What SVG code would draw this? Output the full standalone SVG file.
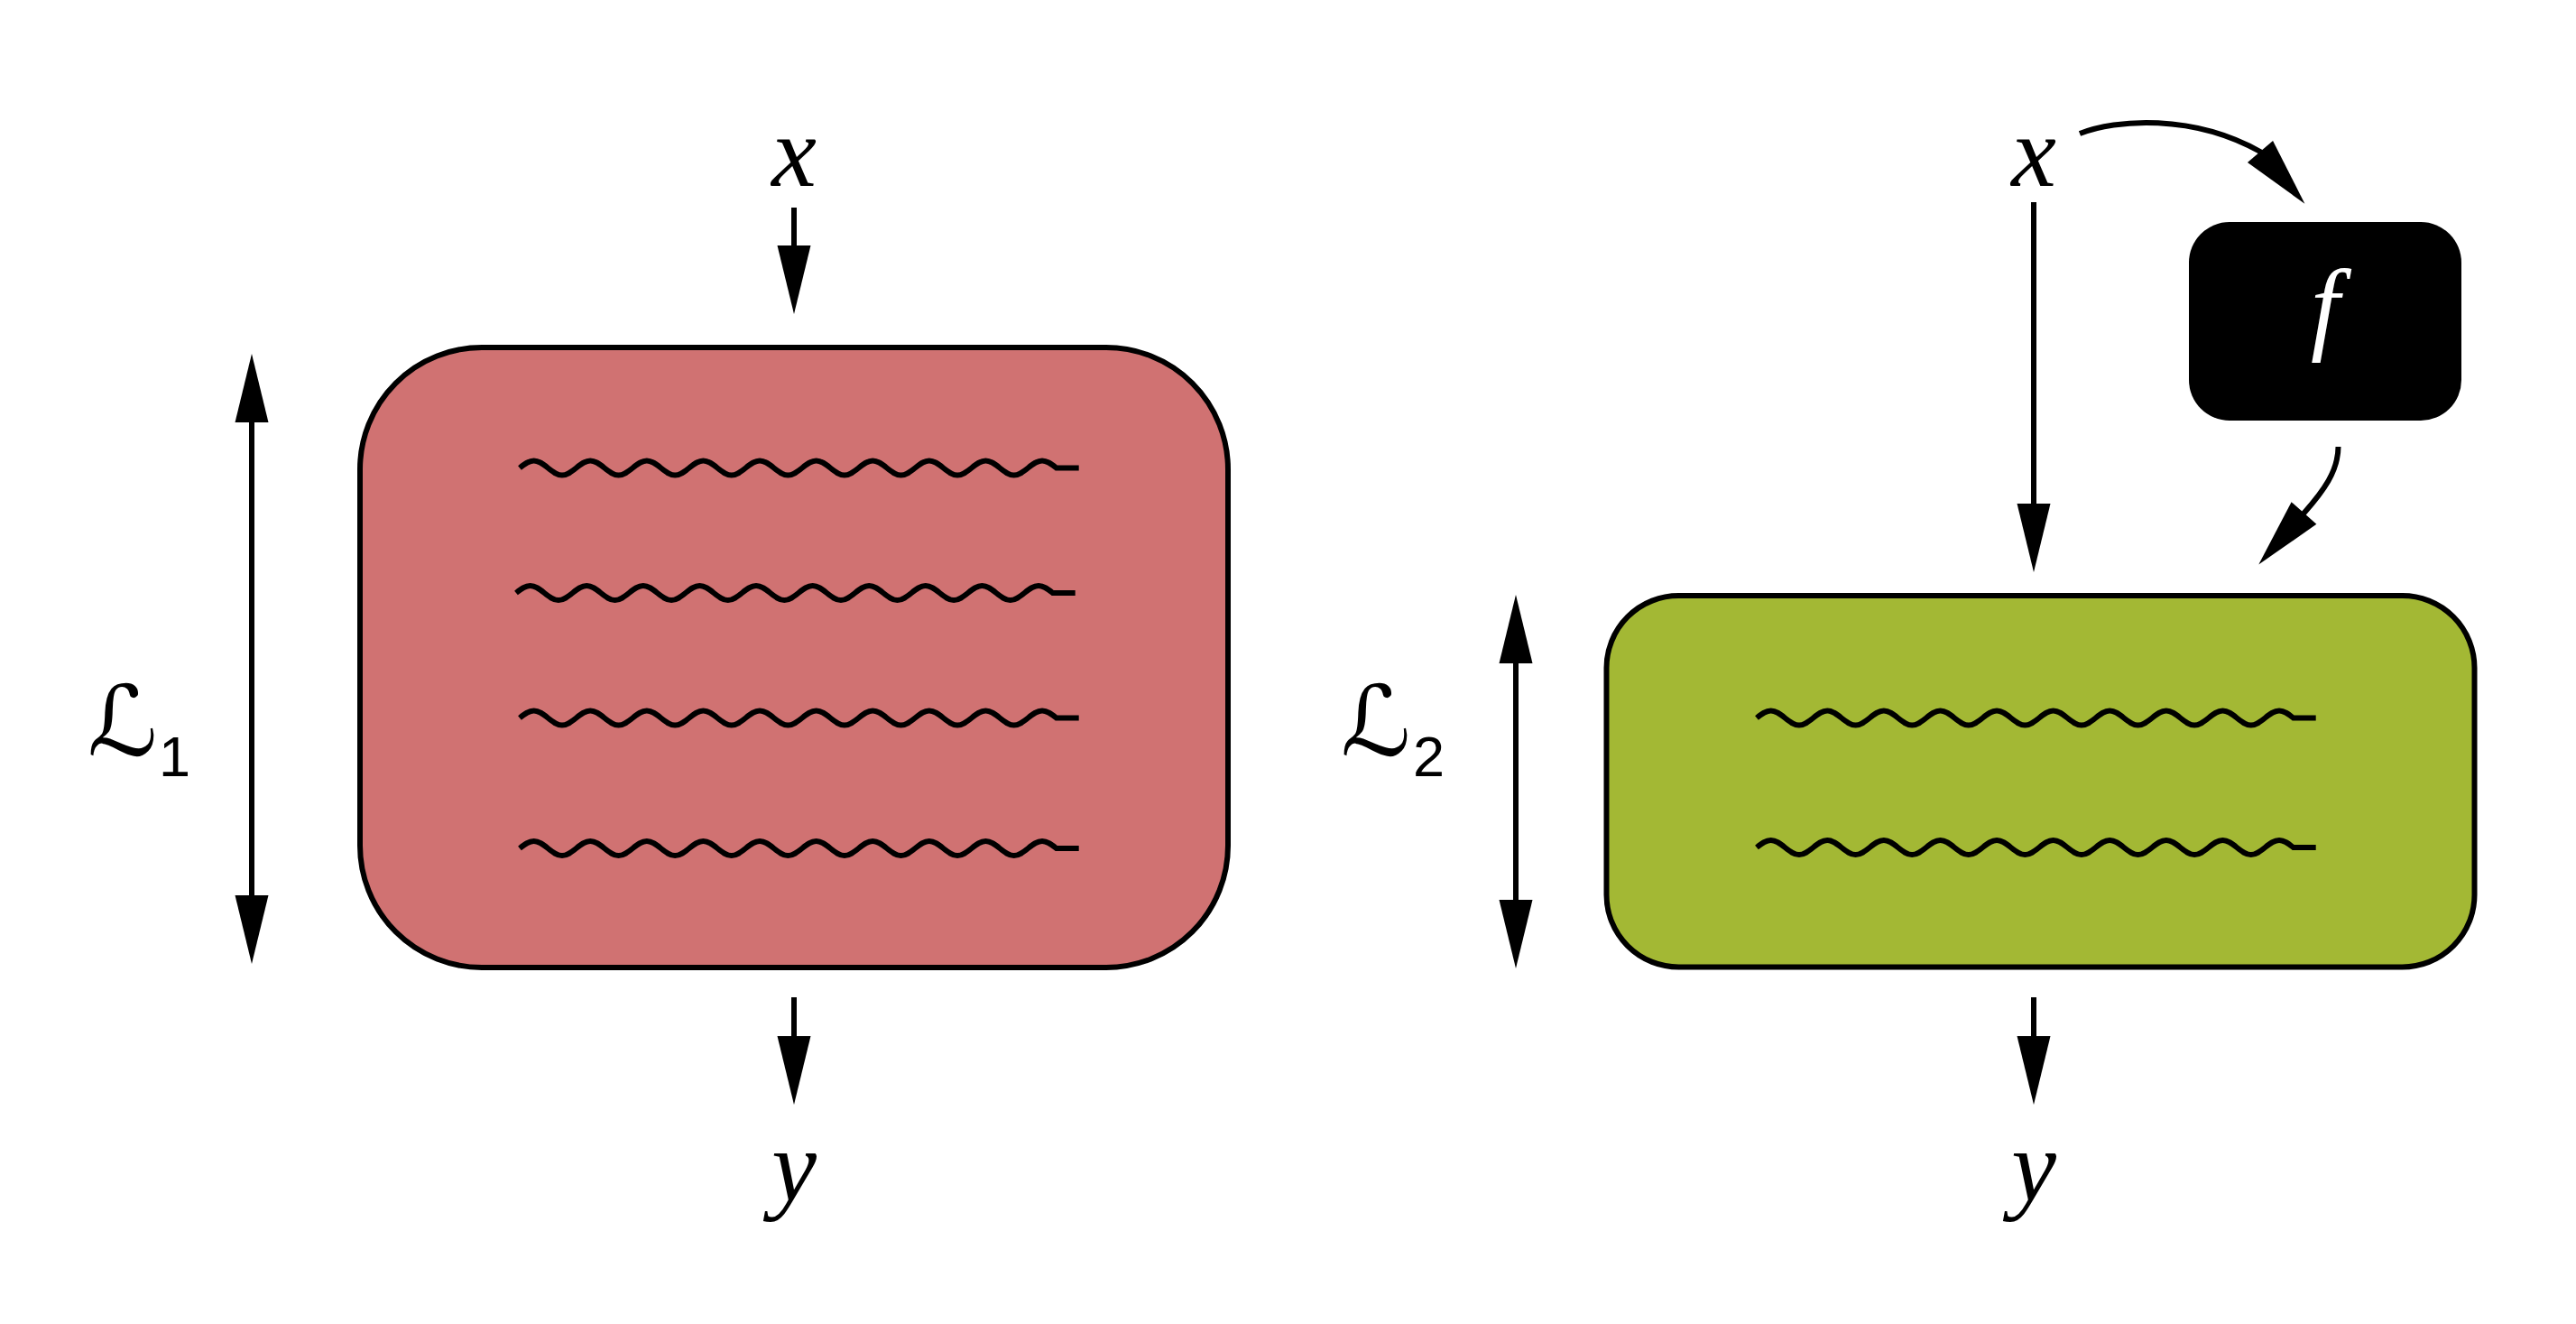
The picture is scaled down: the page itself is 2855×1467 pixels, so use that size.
<svg xmlns="http://www.w3.org/2000/svg" width="2855" height="1467" viewBox="0 0 2855 1467">
<style>
.box{stroke:#000;stroke-width:6}
.red{fill:#d07272}
.green{fill:#a3b834}
.wave{fill:none;stroke:#000;stroke-width:6}
.conn{fill:none;stroke:#000;stroke-width:6;marker-end:url(#ah)}
.both{marker-start:url(#ah)}
.math{font-family:"Liberation Serif","DejaVu Serif",serif;font-style:italic;text-anchor:middle}
.cal{font-family:"DejaVu Serif","DejaVu Sans",serif;font-size:108px;text-anchor:middle}
.sub{font-family:"Liberation Sans","DejaVu Sans",sans-serif;font-size:63px}
</style>
<defs>
<marker id="ah" markerUnits="userSpaceOnUse" markerWidth="76" markerHeight="38" viewBox="0 -19 76 38" refX="0" refY="0" orient="auto-start-reverse" overflow="visible">
<path d="M-1,-18.5 L75,0 L-1,18.5 Z" fill="#000"/>
</marker>
<path id="wave" d="M0,0 c5.104,-4.098 9.986,-8 15.65,-8 s10.547,3.902 15.65,8 s9.986,8 15.65,8 s10.547,-3.902 15.65,-8 s9.986,-8 15.65,-8 s10.547,3.902 15.65,8 s9.986,8 15.65,8 s10.547,-3.902 15.65,-8 s9.986,-8 15.65,-8 s10.547,3.902 15.65,8 s9.986,8 15.65,8 s10.547,-3.902 15.65,-8 s9.986,-8 15.65,-8 s10.547,3.902 15.65,8 s9.986,8 15.65,8 s10.547,-3.902 15.65,-8 s9.986,-8 15.65,-8 s10.547,3.902 15.65,8 s9.986,8 15.65,8 s10.547,-3.902 15.65,-8 s9.986,-8 15.65,-8 s10.547,3.902 15.65,8 s9.986,8 15.65,8 s10.547,-3.902 15.65,-8 s9.986,-8 15.65,-8 s10.547,3.902 15.65,8 s9.986,8 15.65,8 s10.547,-3.902 15.65,-8 s9.986,-8 15.65,-8 s10.547,3.902 15.65,8 s9.986,8 15.65,8 s10.547,-3.902 15.65,-8 s9.986,-8 15.65,-8 s10.547,3.902 15.65,8 s9.986,8 15.65,8 s10.547,-3.902 15.65,-8 s9.986,-8 15.65,-8 s10.547,3.902 15.65,8 h25"/>
</defs>
<rect x="0" y="0" width="2855" height="1467" fill="#fff"/>

<g id="block-1">
<rect class="box red" x="399" y="385" width="962" height="687" rx="135" ry="135"/>
<use href="#wave" class="wave" x="576" y="518.5"/>
<use href="#wave" class="wave" x="572" y="657"/>
<use href="#wave" class="wave" x="576" y="795.5"/>
<use href="#wave" class="wave" x="576" y="940"/>
</g>

<g id="block-2">
<rect class="box green" x="1780.5" y="660" width="962" height="411.5" rx="80" ry="80"/>
<use href="#wave" class="wave" x="1947" y="795.5"/>
<use href="#wave" class="wave" x="1947" y="939"/>
</g>

<g id="f-box">
<rect x="2426" y="246" width="302" height="220" rx="45" ry="45" fill="#000"/>
<text class="math" x="2577" y="378" font-size="115" fill="#fff">f</text>
</g>

<g id="label-x-1"><text class="math" x="880" y="206" font-size="112">x</text></g>
<g id="label-y-1"><text class="math" x="880" y="1330" font-size="112">y</text></g>
<g id="label-x-2"><text class="math" x="2254" y="206" font-size="112">x</text></g>
<g id="label-y-2"><text class="math" x="2254" y="1330" font-size="112">y</text></g>

<g id="label-L1"><text class="cal" x="136" y="837">ℒ</text><text class="sub" x="176" y="860">1</text></g>
<g id="label-L2"><text class="cal" x="1525" y="837">ℒ</text><text class="sub" x="1566" y="860">2</text></g>

<g id="connectors">
<path class="conn" d="M880,230 V273"/>
<path class="conn" d="M880,1105 V1149"/>
<path class="conn both" d="M279,467 V993"/>
<path class="conn both" d="M1680,734 V998"/>
<path class="conn" d="M2254,224 V559"/>
<path class="conn" d="M2254,1105 V1149"/>
<path class="conn" d="M2305,148 C2345,132 2430,126 2505,168 l0.65,0.76"/>
<path class="conn" d="M2591.5,495 C2591.5,522 2575,544 2553.5,568.5 l-0.66,0.75"/>
</g>
</svg>
